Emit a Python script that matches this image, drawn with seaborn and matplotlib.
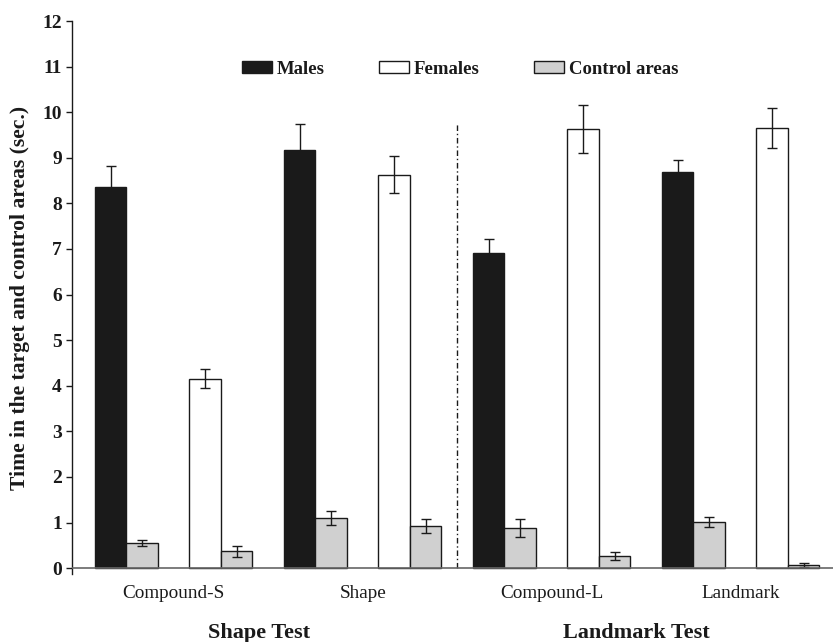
import pandas as pd
import numpy as np
import matplotlib
matplotlib.use("Agg")
import matplotlib.pyplot as plt
import seaborn as sns

# values (seconds)
groups = ['Compound-S', 'Shape', 'Compound-L', 'Landmark']
males = [8.35, 9.17, 6.92, 8.68]
males_err = [0.46, 0.58, 0.30, 0.27]
males_ctrl = [0.55, 1.10, 0.88, 1.01]
males_ctrl_err = [0.07, 0.16, 0.20, 0.10]
females = [4.15, 8.63, 9.63, 9.66]
females_err = [0.21, 0.40, 0.52, 0.44]
females_ctrl = [0.37, 0.92, 0.27, 0.07]
females_ctrl_err = [0.12, 0.15, 0.09, 0.05]
tests = ['Shape Test', 'Landmark Test']

sns.set_style('white')
plt.rcParams['font.family'] = ['Liberation Serif', 'DejaVu Serif']
ink = '#1a1a1a'

# slot layout: each group takes 6 slots, bars at 0,1 (males) and 3,4 (females)
rows = []
for g, name in enumerate(groups):
    base = 6 * g
    rows.append(dict(pos=base + 0, value=males[g], err=males_err[g], series='Males'))
    rows.append(dict(pos=base + 1, value=males_ctrl[g], err=males_ctrl_err[g], series='Control areas'))
    rows.append(dict(pos=base + 3, value=females[g], err=females_err[g], series='Females'))
    rows.append(dict(pos=base + 4, value=females_ctrl[g], err=females_ctrl_err[g], series='Control areas'))
df = pd.DataFrame(rows)

fig = plt.figure(figsize=(8.33, 6.42), dpi=100)
ax = fig.add_axes([0.0864, 0.1059, 0.9136, 0.8613])

palette = {'Males': ink, 'Females': 'white', 'Control areas': '#d0d0d0'}
sns.barplot(data=df, x='pos', y='value', hue='series',
            hue_order=['Males', 'Females', 'Control areas'], palette=palette,
            native_scale=True, dodge=False, width=1.0, edgecolor=ink,
            linewidth=1, errorbar=None, ax=ax)

ax.errorbar(df['pos'], df['value'], yerr=df['err'], fmt='none', ecolor=ink,
            elinewidth=1, capsize=3.6, capthick=1, zorder=3)

# separator between the two tests
ax.plot([11, 11], [0, 9.76], color=ink, lw=1, dashes=(4, 2, 1, 2))
ax.axhline(0, color='#666666', lw=1.2, zorder=4)

ax.set_xlim(-1.23, 22.93)
ax.set_ylim(-0.13, 12)
ax.set_yticks(range(0, 13))
ax.set_yticklabels([str(i) for i in range(0, 13)], fontsize=14, fontweight='bold', color=ink)
ax.set_xticks([6 * g + 2 for g in range(len(groups))])
ax.set_xticklabels(groups, fontsize=13.8, color=ink)
ax.tick_params(axis='x', length=0, pad=8)
ax.tick_params(axis='y', direction='out', length=4.3, width=1, color=ink, pad=3, left=True)

for s in ['top', 'right', 'bottom']:
    ax.spines[s].set_visible(False)
ax.spines['left'].set_color(ink)
ax.spines['left'].set_linewidth(1)

ax.set_xlabel('')
ax.set_ylabel('Time in the target and control areas (sec.)', fontsize=15.6,
              fontweight='bold', color=ink)
ax.yaxis.set_label_coords(-0.0555, 0.5)

for x, t in zip([4.7, 16.7], tests):
    ax.text(x, -0.107, t, transform=ax.get_xaxis_transform(), ha='center',
            va='center', fontsize=16, fontweight='bold', color=ink)

handles, labels = ax.get_legend_handles_labels()
ax.legend(handles, labels, loc='center left', bbox_to_anchor=(0.211, 0.913),
          ncol=3, frameon=False, borderpad=0, handlelength=1.6,
          handleheight=0.55, handletextpad=0.25, columnspacing=2.9,
          prop={'family': 'Liberation Serif', 'weight': 'bold', 'size': 13.5},
          labelcolor=ink)

fig.savefig('out.png', dpi=100)
